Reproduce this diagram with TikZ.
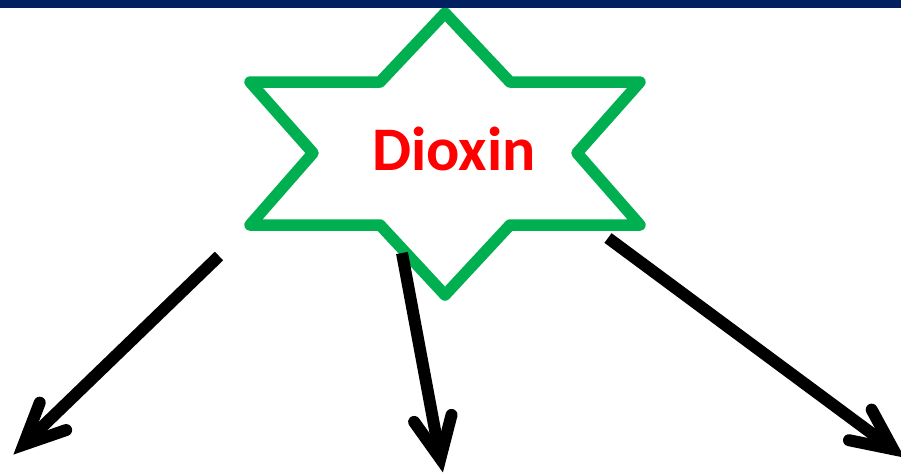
\documentclass[tikz,border=0pt]{standalone}
\usepackage{fontspec}
\setmainfont{Carlito}
\usetikzlibrary{calc}
\definecolor{navy}{HTML}{002060}
\definecolor{stargreen}{HTML}{00B050}
\definecolor{dred}{HTML}{FF0000}
\begin{document}
\begin{tikzpicture}[x=1pt,y=-1pt,
  starline/.style={draw=stargreen,line width=11.5pt,line join=round,fill=white},
  shaft/.style={draw=black,line width=12pt,line cap=butt},
  headline/.style={draw=black,line width=12pt,line cap=round,line join=miter,miter limit=20}]
\useasboundingbox (0,0) rectangle (901,475);
\clip (0,0) rectangle (901,475);
% star
\draw[starline] (445,13) -- (510,82) -- (640,82) -- (577,153) -- (640,225) -- (510,225)
  -- (445,295) -- (380,225) -- (250,225) -- (313,153) -- (250,82) -- (380,82) -- cycle;
\node[anchor=base,text=dred,font=\bfseries\fontsize{62}{62}\selectfont,inner sep=0pt] (dioxin) at (454,170) {Dioxin};
% arrow endpoints
\coordinate (s1) at (219,256);
\coordinate (t1) at (23.6,444.7);
\coordinate (s2) at (402,253);
\coordinate (t2) at (440.3,458.5);
\coordinate (s3) at (608,238);
\coordinate (t3) at (893.1,449.2);
\foreach \s/\t in {s1/t1,s2/t2,s3/t3}{
  \draw[shaft] (\s) -- (\t);
  \draw[headline] ($(\t)!45pt!25:(\s)$) -- (\t) -- ($(\t)!45pt!-25:(\s)$);
}
% top bar
\fill[navy] (0,0) rectangle (901,8);
\end{tikzpicture}
\end{document}
